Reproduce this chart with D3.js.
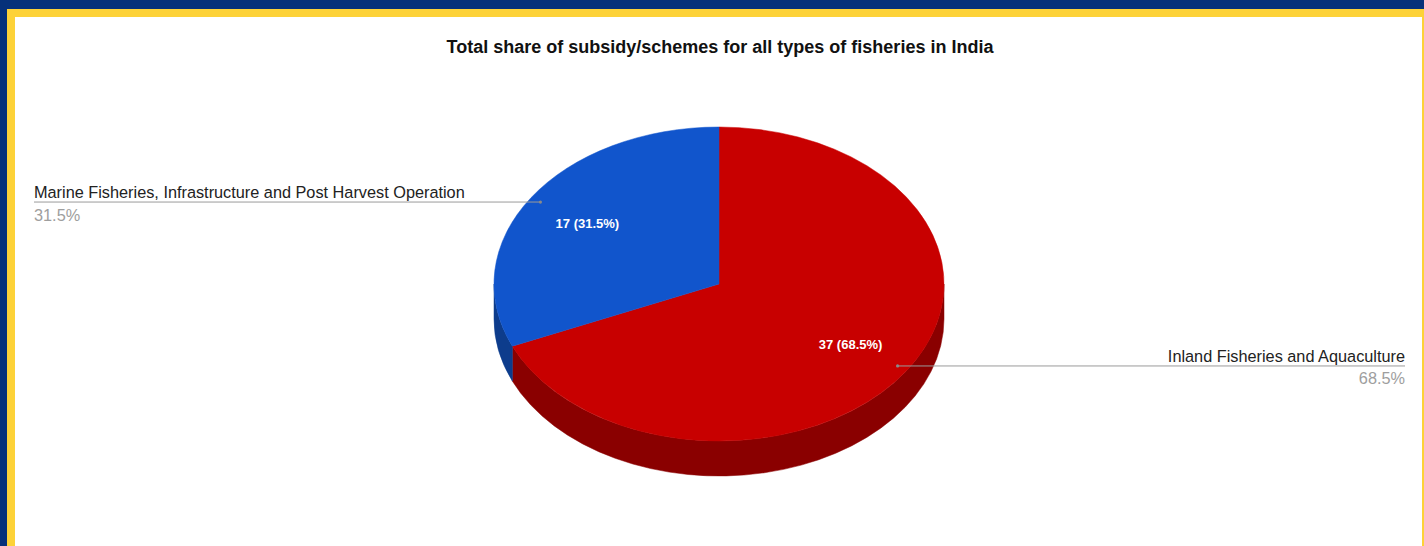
<!DOCTYPE html>
<html>
<head>
<meta charset="utf-8">
<script src="https://cdn.jsdelivr.net/npm/d3@7"></script>
<style>
  html, body { margin: 0; padding: 0; background: #ffffff; }
  svg { display: block; font-family: "Liberation Sans", Arial, sans-serif; }
</style>
</head>
<body>
<svg id="chart" width="1424" height="546"></svg>
<script>
// Chart data
const title = "Total share of subsidy/schemes for all types of fisheries in India";
const categories = ["Inland Fisheries and Aquaculture", "Marine Fisheries, Infrastructure and Post Harvest Operation"];
const values = [37, 17];
const topColors = ["#c80000", "#1155cc"];
const sideColors = ["#8a0000", "#0d3c8c"];

const W = 1424, H = 546;
const svg = d3.select("#chart");

// Frame: navy outer band, yellow inner band
svg.append("rect").attr("x", 0).attr("y", 0).attr("width", W).attr("height", H).attr("fill", "#06317a");
svg.append("rect").attr("x", 7).attr("y", 9).attr("width", W - 7).attr("height", H - 9).attr("fill", "#fdd238");
svg.append("rect").attr("x", 15).attr("y", 17).attr("width", W - 15 - 2).attr("height", H - 17).attr("fill", "#ffffff");

// Title
svg.append("text")
  .attr("x", 720).attr("y", 53)
  .attr("text-anchor", "middle")
  .attr("font-size", 18).attr("font-weight", "bold").attr("fill", "#111")
  .text(title);

// Elliptical 3D pie geometry
const cx = 719, cy = 284, rx = 225, ry = 157, depth = 35;
const total = d3.sum(values);
const pie = d3.pie().sort(null).startAngle(0).endAngle(2 * Math.PI);
const arcs = pie(values);
const pt = (a, f = 1, dy = 0) => [cx + rx * f * Math.sin(a), cy - ry * f * Math.cos(a) + dy];

// Side walls (only the front half, angles between PI/2 and 3PI/2, are visible)
const sideG = svg.append("g");
arcs.forEach((d, i) => {
  const a0 = Math.max(d.startAngle, Math.PI / 2);
  const a1 = Math.min(d.endAngle, 3 * Math.PI / 2);
  if (a1 <= a0) return;
  const p0 = pt(a0), p1 = pt(a1);
  const q1 = pt(a1, 1, depth), q0 = pt(a0, 1, depth);
  const large = (a1 - a0) > Math.PI ? 1 : 0;
  const path = `M${p0[0]},${p0[1]} A${rx},${ry} 0 ${large} 1 ${p1[0]},${p1[1]}` +
    ` L${q1[0]},${q1[1]} A${rx},${ry} 0 ${large} 0 ${q0[0]},${q0[1]} Z`;
  sideG.append("path").attr("d", path).attr("fill", sideColors[i])
    .attr("stroke", sideColors[i]).attr("stroke-width", 0.5);
});

// Top faces
const topG = svg.append("g");
arcs.forEach((d, i) => {
  const p0 = pt(d.startAngle), p1 = pt(d.endAngle);
  const large = (d.endAngle - d.startAngle) > Math.PI ? 1 : 0;
  const path = `M${cx},${cy} L${p0[0]},${p0[1]} A${rx},${ry} 0 ${large} 1 ${p1[0]},${p1[1]} Z`;
  topG.append("path").attr("d", path).attr("fill", topColors[i])
    .attr("stroke", topColors[i]).attr("stroke-width", 0.5);
});

// In-slice value labels
const fmtPct = v => (v / total * 100).toFixed(1) + "%";
arcs.forEach((d, i) => {
  const mid = (d.startAngle + d.endAngle) / 2;
  const p = pt(mid, 0.7);
  svg.append("text")
    .attr("x", p[0]).attr("y", p[1] + 4.5)
    .attr("text-anchor", "middle")
    .attr("font-size", 13).attr("font-weight", "bold").attr("fill", "#ffffff")
    .text(`${values[i]} (${fmtPct(values[i])})`);
});

// Leader lines with category labels
arcs.forEach((d, i) => {
  const mid = (d.startAngle + d.endAngle) / 2;
  const p = pt(mid, 0.95);
  const right = Math.sin(mid) > 0;
  const xEnd = right ? 1405 : 34;
  const g = svg.append("g");
  g.append("line").attr("x1", p[0]).attr("y1", p[1]).attr("x2", xEnd).attr("y2", p[1])
    .attr("stroke", "#9a9a9a").attr("stroke-width", 1);
  g.append("circle").attr("cx", p[0]).attr("cy", p[1]).attr("r", 1.6).attr("fill", "#8a8a8a");
  g.append("text").attr("x", xEnd).attr("y", p[1] - 4)
    .attr("text-anchor", right ? "end" : "start")
    .attr("font-size", 16.3).attr("fill", "#222")
    .text(categories[i]);
  g.append("text").attr("x", xEnd).attr("y", p[1] + 18.5)
    .attr("text-anchor", right ? "end" : "start")
    .attr("font-size", 16.3).attr("fill", "#9e9e9e")
    .text(fmtPct(values[i]));
});
</script>
</body>
</html>
